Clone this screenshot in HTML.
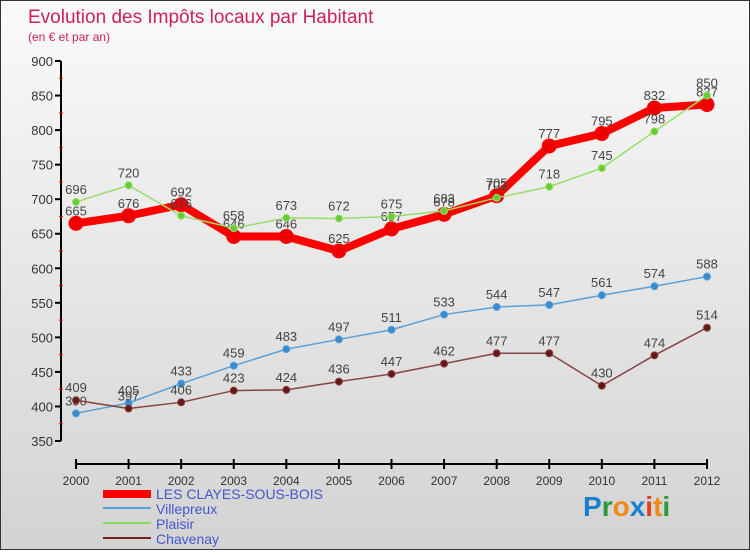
<!DOCTYPE html>
<html><head><meta charset="utf-8"><style>
body{margin:0;width:750px;height:550px;overflow:hidden;font-family:"Liberation Sans",sans-serif}
#c{position:absolute;left:0;top:0;width:748px;height:548px;border:1px solid #333;background:linear-gradient(#fafafa,#d3d3d3)}
</style></head><body>
<div id="c">
<svg id="s" width="750" height="550" xmlns="http://www.w3.org/2000/svg">
<text x="27" y="22" font-size="19" fill="#cc2255">Evolution des Impôts locaux par Habitant</text>
<text x="27" y="40" font-size="12" fill="#cc2255">(en € et par an)</text>
<g id="axes"></g><g id="series"></g>
<g>
<rect x="102" y="489" width="48" height="8" fill="#ff0000"/>
<text x="155" y="498" font-size="14" fill="#4455cc">LES CLAYES-SOUS-BOIS</text>
<rect x="102" y="506" width="48" height="2" fill="#5aa0d8"/>
<text x="155" y="513" font-size="14" fill="#4455cc">Villepreux</text>
<rect x="102" y="521" width="48" height="2" fill="#88dd55"/>
<text x="155" y="528" font-size="14" fill="#4455cc">Plaisir</text>
<rect x="102" y="536" width="48" height="2" fill="#772222"/>
<text x="155" y="543" font-size="14" fill="#4455cc">Chavenay</text>
</g>
<text x="582" y="515" font-size="28" font-weight="bold"><tspan fill="#1a7fd0">P</tspan><tspan fill="#2a9a3a">r</tspan><tspan fill="#f08a10">o</tspan><tspan fill="#1a7fd0">x</tspan><tspan fill="#e04020">i</tspan><tspan fill="#f08a10">t</tspan><tspan fill="#2a9a3a">i</tspan></text>
</svg></div>
<script>
const years=[2000,2001,2002,2003,2004,2005,2006,2007,2008,2009,2010,2011,2012];
const yTicks=[350,400,450,500,550,600,650,700,750,800,850,900];
const clayes=[665,676,692,646,646,625,657,678,705,777,795,832,837];
const villepreux=[390,405,433,459,483,497,511,533,544,547,561,574,588];
const plaisir=[696,720,676,658,673,672,675,683,702,718,745,798,850];
const chavenay=[409,397,406,423,424,436,447,462,477,477,430,474,514];
const NS="http://www.w3.org/2000/svg";
const xs=i=>75+i*(706-75)/12;
const ys=v=>440-(v-350)*380/550;
function mk(tag,attrs,parent){const e=document.createElementNS(NS,tag);for(const k in attrs)e.setAttribute(k,attrs[k]);parent.appendChild(e);return e;}
const ax=document.getElementById('axes');
let l=mk('line',{x1:60,y1:60,x2:60,y2:440,stroke:'#000','stroke-width':2},ax);


l=mk('line',{x1:75,y1:463,x2:706,y2:463,stroke:'#000','stroke-width':2},ax);


yTicks.forEach((t,i)=>{
  mk('line',{x1:54,x2:60,y1:ys(t),y2:ys(t),stroke:'#000','stroke-width':2},ax);
  if(i<yTicks.length-1)mk('line',{x1:58,x2:62,y1:ys(t+25),y2:ys(t+25),stroke:'#f00','stroke-width':1},ax);
  const tx=mk('text',{x:52,y:ys(t)+5,'font-size':13,fill:'#333','text-anchor':'end'},ax);
  tx.textContent=t;
  
  
});
years.forEach((y,i)=>{
  mk('line',{x1:xs(i),x2:xs(i),y1:458,y2:468,stroke:'#000','stroke-width':2},ax);
  const tx=mk('text',{x:xs(i),y:484,'font-size':12,fill:'#333','text-anchor':'middle'},ax);
  tx.textContent=y;
  
  
});
const sg=document.getElementById('series');
function draw(name,vals,color,w,r,dot){
  const g=mk('g',{},sg);
  
  
  const p=mk('polyline',{points:vals.map((v,i)=>xs(i)+','+ys(v)).join(' '),fill:'none',stroke:color,'stroke-width':w,'stroke-linejoin':'round'},g);
  
  
  vals.forEach((v,i)=>{
    const c=mk('circle',{cx:xs(i),cy:ys(v),r:r,fill:dot,stroke:color,'stroke-width':1},g);
    
    
    const t=mk('text',{x:xs(i),y:ys(v)-8,'font-size':13,fill:'#444','text-anchor':'middle'},g);
    t.textContent=v;
    
    
  });
}
draw('villepreux',villepreux,'#5aa0d8',1.5,3.5,'#3a8ad0');
draw('chavenay',chavenay,'#884444',1.5,3.5,'#661818');
draw('clayes',clayes,'#ff0000',8,7,'#ee0000');
draw('plaisir',plaisir,'#99dd66',1.5,3.5,'#66cc33');
</script>
</body></html>
